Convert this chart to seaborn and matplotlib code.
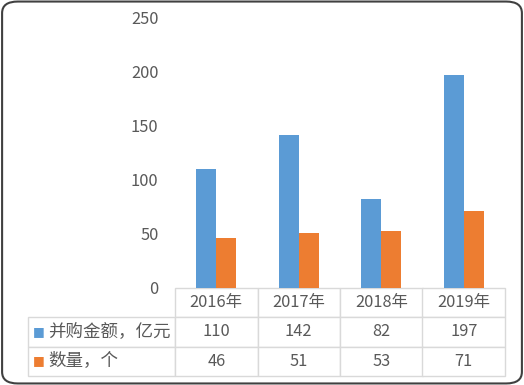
import numpy as np
import pandas as pd
import matplotlib
matplotlib.use('Agg')
import matplotlib.pyplot as plt
import seaborn as sns
from matplotlib.patches import FancyBboxPatch

# data
years = ['2016年', '2017年', '2018年', '2019年']
series_names = ['并购金额，亿元', '数量，个']
amount = [110, 142, 82, 197]
count = [46, 51, 53, 71]
colors = ['#5B9BD5', '#ED7D31']
text_color = '#595959'
grid_color = '#D9D9D9'

sns.set_theme(style='white')
plt.rcParams['font.family'] = ['Noto Sans CJK SC', 'DejaVu Sans']

df = pd.DataFrame({
    'year': years * 2,
    'series': [series_names[0]] * 4 + [series_names[1]] * 4,
    'value': amount + count,
})

fig = plt.figure(figsize=(5.24, 3.85), dpi=100)
ax = fig.add_axes([175 / 524, 1 - 288 / 385, 330 / 524, 270 / 385])

sns.barplot(data=df, x='year', y='value', hue='series', hue_order=series_names,
            palette=colors, width=0.485, gap=0, saturation=1, linewidth=0,
            legend=False, ax=ax)

ax.set_ylim(0, 250)
ax.set_xlim(-0.5, 3.5)
ax.set_yticks(np.arange(0, 251, 50))
ax.set_xticks([])
ax.set_xlabel('')
ax.set_ylabel('')
ax.tick_params(axis='y', length=0, pad=12, labelsize=11.8, labelcolor=text_color)
for s in ax.spines.values():
    s.set_visible(False)

# data table under the plot; bbox covers the data columns only
cell_text = [[str(v) for v in amount], [str(v) for v in count]]
tbl = ax.table(cellText=cell_text, colLabels=years, cellLoc='center',
               bbox=[0, -88 / 270, 1, 88 / 270])
col_w = tbl[1, 0].get_width()
row_h = tbl[1, 0].get_height()
for i, name in enumerate(series_names):
    c = tbl.add_cell(i + 1, -1, width=col_w * 147 / 82.5, height=row_h,
                     text=name, loc='left')
    c.PAD = 20 / 147
tbl.auto_set_font_size(False)
tbl.set_fontsize(11.8)
for (r, c), cell in tbl.get_celld().items():
    cell.set_edgecolor(grid_color)
    cell.set_linewidth(1.0)
    cell.get_text().set_color(text_color)
    if c == -1:
        cell.get_text().set_fontsize(12.6)

# legend keys in the row label cells
for i, col in enumerate(colors):
    ax.text(-136 / 330, -(331.5 + 29.5 * i - 288) / 270, '■', color=col,
            fontsize=9, ha='center', va='center', transform=ax.transAxes,
            family='DejaVu Sans')

# rounded outer border
border = FancyBboxPatch((0.004, 0.004), 0.992, 0.992,
                        boxstyle='round,pad=0,rounding_size=0.03',
                        transform=fig.transFigure, facecolor='none',
                        edgecolor='#404040', linewidth=1.5)
fig.patches.append(border)

fig.savefig('out.png', dpi=100)
